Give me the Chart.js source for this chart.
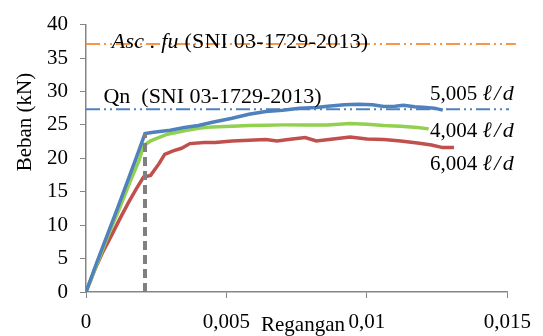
<!DOCTYPE html>
<html>
<head>
<meta charset="utf-8">
<script src="https://cdn.jsdelivr.net/npm/chart.js@4.4.1/dist/chart.umd.min.js"></script>
<style>
  html, body { margin: 0; padding: 0; background: #ffffff; }
  #wrap { width: 543px; height: 336px; position: relative; }
</style>
</head>
<body>
<div id="wrap"><canvas id="beban-regangan"></canvas></div>
<script>
// Load-strain curves for three l/d ratios
const strain5005 = [0, 0.0004, 0.0008, 0.0011, 0.0015, 0.0018, 0.0021, 0.0024, 0.0030, 0.0035, 0.0040, 0.0045, 0.0052, 0.0058, 0.0064, 0.0070, 0.0076, 0.0082, 0.0086, 0.0092, 0.0097, 0.0102, 0.0106, 0.0110, 0.0113, 0.0117, 0.0121, 0.0124, 0.0127];
const load5005   = [0, 4.6, 9.0, 12.3, 16.8, 20.2, 23.7, 23.9, 24.2, 24.6, 24.9, 25.4, 26.0, 26.6, 27.0, 27.2, 27.5, 27.6, 27.8, 28.0, 28.1, 28.0, 27.75, 27.8, 27.95, 27.7, 27.6, 27.5, 27.2];

const strain4004 = [0, 0.0004, 0.0008, 0.0012, 0.0016, 0.0019, 0.00205, 0.0023, 0.0029, 0.0035, 0.0040, 0.0045, 0.0052, 0.0058, 0.0064, 0.0070, 0.0078, 0.0086, 0.0094, 0.0100, 0.0106, 0.0112, 0.0118, 0.0122];
const load4004   = [0, 4.3, 8.6, 12.6, 16.8, 19.8, 21.9, 22.6, 23.6, 24.1, 24.5, 24.7, 24.8, 24.9, 24.95, 25.0, 25.0, 25.0, 25.2, 25.1, 24.9, 24.8, 24.6, 24.4];

const strain6004 = [0, 0.0003, 0.0006, 0.0009, 0.0012, 0.0015, 0.0018, 0.00205, 0.0023, 0.0026, 0.0028, 0.0031, 0.0034, 0.0037, 0.0042, 0.0046, 0.0052, 0.0058, 0.0064, 0.0068, 0.0072, 0.0078, 0.0082, 0.0088, 0.0094, 0.0100, 0.0106, 0.0112, 0.0118, 0.0123, 0.0127, 0.0131];
const load6004   = [0, 3.2, 6.0, 8.4, 10.9, 13.3, 15.5, 17.2, 17.45, 19.2, 20.6, 21.1, 21.5, 22.2, 22.35, 22.35, 22.6, 22.7, 22.8, 22.6, 22.8, 23.1, 22.6, 22.9, 23.2, 22.9, 22.8, 22.6, 22.3, 22.0, 21.6, 21.6];

// Reference capacities (kN) and yield strain marker
const ascFu = 37.1;
const qn = 27.35;
const yieldStrain = 0.0021;
const yieldLoad = 23.8;

const seriesLabels = ["5,005 ℓ/d", "4,004 ℓ/d", "6,004 ℓ/d"];
const xTicks = [0, 0.005, 0.01, 0.015];
const xTickLabels = ["0", "0,005", "0,01", "0,015"];
const yTicks = [0, 5, 10, 15, 20, 25, 30, 35, 40];

const SERIF = "'Liberation Serif', 'Times New Roman', serif";
const AXIS_GRAY = "#868686";

function toPoints(xs, ys) {
    return xs.map((x, i) => ({ x: x, y: ys[i] }));
}

// Texts drawn over the plot: axis titles, capacity notes, series names
const textPlugin = {
    id: "chartTexts",
    afterDraw(chart) {
        const ctx = chart.ctx;
        const xs = chart.scales.x;
        const ys = chart.scales.y;
        ctx.save();
        ctx.fillStyle = "#000000";
        ctx.textBaseline = "alphabetic";
        ctx.textAlign = "left";

        // Asc . fu note (italic part then plain part)
        ctx.font = "italic 22px " + SERIF;
        ctx.letterSpacing = "0.2px";
        let x0 = xs.getPixelForValue(0.00092);
        let y0 = ys.getPixelForValue(ascFu) + 4;
        ctx.fillText("Asc . fu", x0, y0);
        let w = ctx.measureText("Asc . fu").width;
        ctx.font = "22px " + SERIF;
        ctx.fillText(" (SNI 03-1729-2013)", x0 + w, y0);
        ctx.letterSpacing = "0px";

        // Qn note
        ctx.fillText("Qn  (SNI 03-1729-2013)", xs.getPixelForValue(0.00062), ys.getPixelForValue(qn) - 6);

        // series names at the right
        const names = [
            { text: seriesLabels[0], y: 100 },
            { text: seriesLabels[1], y: 137 },
            { text: seriesLabels[2], y: 170 }
        ];
        names.forEach(n => {
            const parts = n.text.split(" ");
            ctx.font = "21px " + SERIF;
            ctx.letterSpacing = "0px";
            ctx.fillText(parts[0] + " ", 430, n.y);
            const pw = ctx.measureText(parts[0] + " ").width;
            ctx.font = "italic 22px " + SERIF;
            ctx.letterSpacing = "2.5px";
            ctx.fillText(parts[1], 430 + pw, n.y);
        });
        ctx.letterSpacing = "0px";

        // axis titles
        ctx.font = "21px " + SERIF;
        ctx.textAlign = "center";
        ctx.fillText("Regangan", 303, 331);

        ctx.translate(31, 122);
        ctx.rotate(-Math.PI / 2);
        ctx.fillText("Beban (kN)", 0, 0);
        ctx.restore();
    }
};

const canvas = document.getElementById("beban-regangan");
canvas.width = 543;
canvas.height = 336;

new Chart(canvas.getContext("2d"), {
    type: "line",
    data: {
        datasets: [
            {
                label: "yield",
                data: [{ x: yieldStrain, y: 0 }, { x: yieldStrain, y: yieldLoad }],
                borderColor: "#808080",
                borderWidth: 4,
                borderDash: [9, 5],
                pointRadius: 0
            },
            {
                label: "Asc . fu",
                data: [{ x: 0, y: ascFu }, { x: 0.0153, y: ascFu }],
                borderColor: "#F79646",
                borderWidth: 2,
                borderDash: [14, 4, 2, 4, 2, 4],
                pointRadius: 0,
                clip: false
            },
            {
                label: "Qn",
                data: [{ x: 0, y: qn }, { x: 0.01506, y: qn }],
                borderColor: "#4F81BD",
                borderWidth: 2,
                borderDash: [14, 4, 2, 4, 2, 4],
                pointRadius: 0,
                clip: false
            },
            {
                label: seriesLabels[0],
                data: toPoints(strain5005, load5005),
                borderColor: "#4F81BD",
                borderWidth: 3.5,
                pointRadius: 0
            },
            {
                label: seriesLabels[1],
                data: toPoints(strain4004, load4004),
                borderColor: "#92D050",
                borderWidth: 3.5,
                pointRadius: 0
            },
            {
                label: seriesLabels[2],
                data: toPoints(strain6004, load6004),
                borderColor: "#C0504D",
                borderWidth: 3.5,
                pointRadius: 0
            }
        ]
    },
    options: {
        responsive: false,
        animation: false,
        events: [],
        layout: { padding: { left: 0, right: 32, top: 20, bottom: 0 } },
        plugins: {
            legend: { display: false },
            tooltip: { enabled: false }
        },
        scales: {
            x: {
                type: "linear",
                min: 0,
                max: 0.015,
                afterBuildTicks(scale) {
                    scale.ticks = xTicks.map(v => ({ value: v }));
                },
                afterFit(scale) {
                    scale.height = 44;
                },
                ticks: {
                    color: "#000000",
                    font: { family: SERIF, size: 21 },
                    padding: 12,
                    maxRotation: 0,
                    callback: (v, i) => xTickLabels[i]
                },
                grid: {
                    drawOnChartArea: false,
                    drawTicks: true,
                    tickLength: 6,
                    color: AXIS_GRAY
                },
                border: { color: AXIS_GRAY, width: 1.5 }
            },
            y: {
                min: 0,
                max: 40,
                afterBuildTicks(scale) {
                    scale.ticks = yTicks.map(v => ({ value: v }));
                },
                afterFit(scale) {
                    scale.width = 86;
                },
                ticks: {
                    color: "#000000",
                    font: { family: SERIF, size: 21 },
                    padding: 12
                },
                grid: {
                    drawOnChartArea: false,
                    drawTicks: true,
                    tickLength: 6,
                    color: AXIS_GRAY
                },
                border: { color: AXIS_GRAY, width: 1.5 }
            }
        }
    },
    plugins: [textPlugin]
});
</script>
</body>
</html>
